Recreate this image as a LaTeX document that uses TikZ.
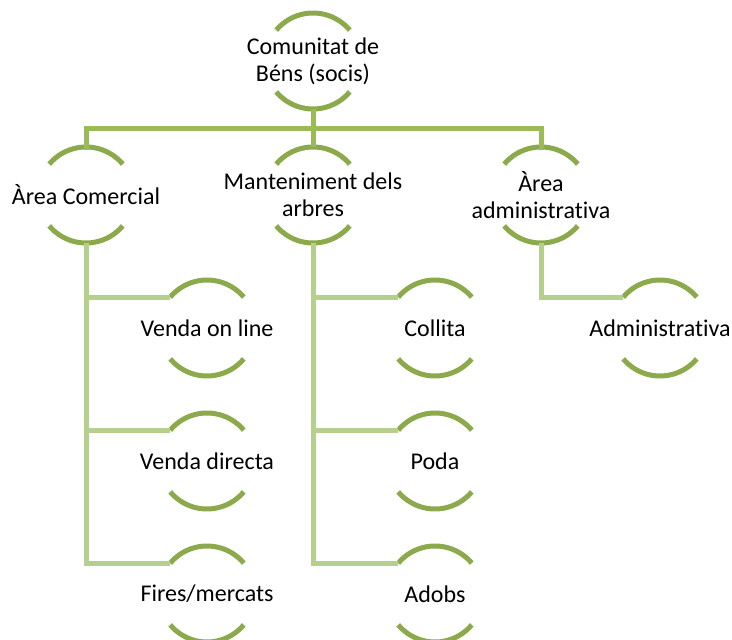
\documentclass[tikz,border=0pt]{standalone}
\usepackage{fontspec}
\setmainfont[Ligatures={NoCommon,NoContextual},Contextuals=NoAlternate]{Carlito}
\definecolor{arcgreen}{HTML}{8CAA4B}
\definecolor{topline}{HTML}{9BBB59}
\definecolor{lowline}{HTML}{B5CF8D}
\begin{document}
\begin{tikzpicture}[x=1pt,y=1pt,
  txt/.style={inner sep=0pt,align=center,font=\fontsize{24}{27}\selectfont},
  arcs/.style={draw=arcgreen,line width=5pt},
  upper/.style={draw=topline,line width=5pt},
  lower/.style={draw=lowline,line width=5pt}]
\useasboundingbox (0,0) rectangle (732,-640);
\node[txt] (top) at (313,-61) {Comunitat de\\Béns (socis)};
\node[txt] (c1) at (86,-195) {Àrea Comercial};
\node[txt] (c2) at (313,-195) {Manteniment dels\\arbres};
\node[txt] (c3) at (541,-195) {Àrea\\administrativa};
\node[txt] (v1) at (207,-328) {Venda on line};
\node[txt] (v2) at (207,-461) {Venda directa};
\node[txt] (v3) at (207,-594) {Fires/mercats};
\node[txt] (m1) at (435,-328) {Collita};
\node[txt] (m2) at (435,-461) {Poda};
\node[txt] (m3) at (435,-594) {Adobs};
\node[txt] (a1) at (660,-328) {Administrativa};
% arcs and anchor points
\foreach \n in {top,c1,c2,c3,v1,v2,v3,m1,m2,m3,a1}{
  \path (\n.center) ++(0,48) coordinate (\n-n);
  \path (\n.center) ++(0,-48) coordinate (\n-s);
  \path (\n.center) ++(140:48) coordinate (\n-w);
  \draw[arcs,shift={(\n.center)}] (40:48) arc[start angle=40,end angle=140,radius=48pt];
  \draw[arcs,shift={(\n.center)}] (220:48) arc[start angle=220,end angle=320,radius=48pt];
}
\coordinate (bar) at (313,-128);
% connectors
\draw[upper] (top-s) -- (bar);
\draw[upper,line cap=rect] (c1-n) |- (bar) -| (c3-n);
\draw[upper] (bar) -- (c2-n);
\draw[lower] (c1-s) |- (v3-w);
\draw[lower] (c1-s |- v1-w) -- (v1-w);
\draw[lower] (c1-s |- v2-w) -- (v2-w);
\draw[lower] (c2-s) |- (m3-w);
\draw[lower] (c2-s |- m1-w) -- (m1-w);
\draw[lower] (c2-s |- m2-w) -- (m2-w);
\draw[lower] (c3-s) |- (a1-w);
\end{tikzpicture}
\end{document}
